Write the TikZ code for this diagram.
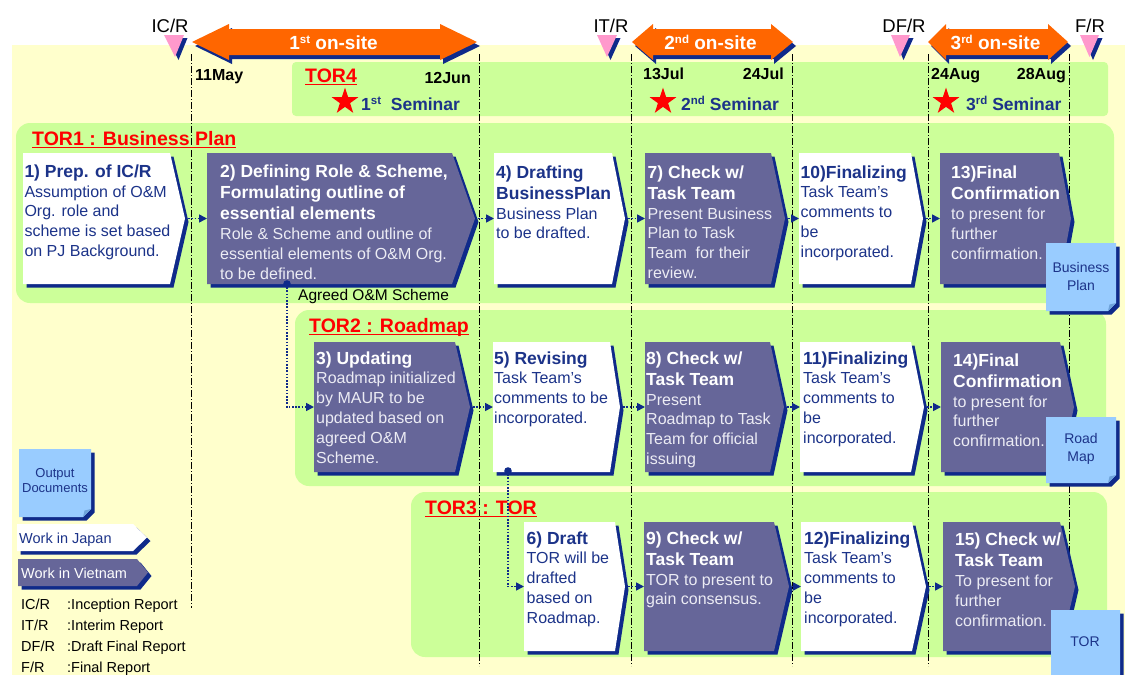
\documentclass[tikz,border=0pt]{standalone}
\usepackage{fontspec}
\setmainfont{Liberation Sans}
\usetikzlibrary{arrows.meta,shapes.geometric}

\definecolor{bgyellow}{HTML}{FFFFCC}
\definecolor{torgreen}{HTML}{CCFF99}
\definecolor{onsite}{HTML}{FF6600}
\definecolor{vnwork}{HTML}{666699}
\definecolor{boxnavy}{HTML}{0F2A8A}
\definecolor{inktext}{HTML}{1C3389}
\definecolor{reportpink}{HTML}{FF99CC}
\definecolor{docblue}{HTML}{99CCFF}
\definecolor{docfold}{HTML}{6FA3DA}
\definecolor{paletext}{HTML}{ECECF4}
\colorlet{bodyink}{inktext}

% fonts for the task boxes
\newcommand{\ttlfont}{\fontsize{17.5}{21.2}\selectfont\bfseries}
\newcommand{\txtfont}{\fontsize{16}{19.8}\selectfont\mdseries}
\newcommand{\titleln}[1]{\hbox{#1}}
\newcommand{\bodyln}[1]{\hbox{\color{bodyink}#1}}
\newcommand{\ordsup}[1]{{\fontsize{11.5}{11.5}\selectfont\raisebox{6pt}{#1}}}

% task box: name, fill, left x, top y, top-right x, tip x, bottom y
\newcommand{\taskshape}[7]{%
  \fill[boxnavy, shift={(3.5,3.5)}] (#3,#4) -- (#5,#4) -- (#6,{(#4+#7)/2}) -- (#5,#7) -- (#3,#7) -- cycle;
  \fill[#2] (#3,#4) -- (#5,#4) -- (#6,{(#4+#7)/2}) -- (#5,#7) -- (#3,#7) -- cycle;
  \coordinate (#1-w) at (#3,{(#4+#7)/2});
  \coordinate (#1-e) at (#6,{(#4+#7)/2});
}

% document with folded corner: left, top, right, bottom
\newcommand{\docshape}[4]{%
  \fill[boxnavy, shift={(3.5,3.5)}] (#1,#2) -- (#3,#2) -- (#3,{#4-8}) -- ({#3-8},#4) -- (#1,#4) -- cycle;
  \fill[docblue] (#1,#2) -- (#3,#2) -- (#3,{#4-8}) -- ({#3-8},#4) -- (#1,#4) -- cycle;
  \fill[docfold] (#3,{#4-8}) -- ({#3-8},#4) -- ({#3-6.5},{#4-6.5}) -- cycle;
}

% double-headed on-site arrow: left tip, left head end, right head start, right tip, centre y
\newcommand{\onsitearrow}[5]{%
  \fill[boxnavy, shift={(3,4)}] (#1,#5) -- (#2,{#5-18}) -- (#2,{#5-13}) -- (#3,{#5-13}) -- (#3,{#5-18}) -- (#4,#5)
     -- (#3,{#5+18}) -- (#3,{#5+13}) -- (#2,{#5+13}) -- (#2,{#5+18}) -- cycle;
  \fill[onsite] (#1,#5) -- (#2,{#5-18}) -- (#2,{#5-13}) -- (#3,{#5-13}) -- (#3,{#5-18}) -- (#4,#5)
     -- (#3,{#5+18}) -- (#3,{#5+13}) -- (#2,{#5+13}) -- (#2,{#5+18}) -- cycle;
}

% report milestone marker: left x, right x, tip x
\newcommand{\reportmark}[3]{%
  \fill[boxnavy, shift={(3.5,3)}] (#1,35) -- (#2,35) -- (#3,57) -- cycle;
  \fill[reportpink] (#1,35) -- (#2,35) -- (#3,57) -- cycle;
}

\begin{document}
\begin{tikzpicture}[x=1pt, y=-1pt,
  timeline/.style={black, line width=0.9pt, dash pattern=on 7pt off 2pt on 1pt off 2pt},
  flow/.style={draw=boxnavy, line width=1.6pt, dash pattern=on 1.6pt off 1.6pt, -{Triangle[length=8pt,width=8pt]}},
  jtext/.style={anchor=base west, inner sep=0, text=inktext, execute at begin node={\colorlet{bodyink}{inktext}}},
  vtext/.style={anchor=base west, inner sep=0, text=white, execute at begin node={\colorlet{bodyink}{paletext}}},
  torhead/.style={inner sep=0, anchor=base west, text=red, font=\fontsize{19.5}{19.5}\selectfont\bfseries},
  dates/.style={inner sep=0, font=\fontsize{16}{16}\selectfont\bfseries},
  toplabel/.style={inner sep=0, anchor=base, font=\fontsize{18.5}{18.5}\selectfont},
  onsitetext/.style={inner sep=0, anchor=base, text=white, font=\fontsize{19}{19}\selectfont\bfseries},
  seminar/.style={inner sep=0, anchor=base west, text=inktext, font=\fontsize{17.5}{17.5}\selectfont\bfseries},
  semstar/.style={star, star points=5, star point ratio=2.618, fill=red, inner sep=0, minimum size=28pt},
  doctext/.style={align=center, inner sep=0, text=inktext, font=\fontsize{14}{18}\selectfont},
  legendtext/.style={inner sep=0, anchor=base west, font=\fontsize{14.5}{14.5}\selectfont},
  ]
\useasboundingbox (0,0) rectangle (1125,675);

% background and TOR regions
\fill[bgyellow] (12,45) rectangle (1125,675);
\fill[torgreen, rounded corners=14pt] (16,123) rectangle (1114,303);
\fill[torgreen, rounded corners=14pt] (295,310) rectangle (1106,486);
\fill[torgreen, rounded corners=14pt] (411,492) rectangle (1107,657);
\fill[torgreen, rounded corners=4pt] (292,62) rectangle (1108,116);

% schedule lines
\draw[timeline] (191,54) -- (191,608);
\foreach \lx in {479.5,631.5,792.5,928,1069.5}
  \draw[timeline] (\lx,54) -- (\lx,666);

% on-site periods
\onsitearrow{192}{229}{440}{477}{42}
\onsitearrow{632}{653}{771}{793}{42}
\onsitearrow{928}{946}{1048}{1068}{42}
\node[onsitetext] (os1) at (333.5,49) {1\ordsup{st} on-site};
\node[onsitetext] (os2) at (710.5,49) {2\ordsup{nd} on-site};
\node[onsitetext] (os3) at (995.5,49) {3\ordsup{rd} on-site};

% report milestones
\reportmark{164}{184}{175}
\reportmark{597}{617}{607}
\reportmark{891}{910}{900}
\reportmark{1080}{1099}{1089.5}
\node[toplabel] (icr) at (170,32) {IC/R};
\node[toplabel] (itr) at (611,32) {IT/R};
\node[toplabel] (dfr) at (904,32) {DF/R};
\node[toplabel] (fr) at (1090,32) {F/R};

% dates
\node[dates, anchor=base west] (d1) at (195,80) {11May};
\node[dates, anchor=base east] (d2) at (471,83) {12Jun};
\node[dates, anchor=base west] (d3) at (643,79) {13Jul};
\node[dates, anchor=base east] (d4) at (784,79) {24Jul};
\node[dates, anchor=base west] (d5) at (931,79) {24Aug};
\node[dates, anchor=base east] (d6) at (1066,79) {28Aug};

% seminars
\node[torhead] (tor4) at (305,82.5) {TOR4};
\node[semstar] (s1) at (345,101.5) {};
\node[semstar] (s2) at (663,101.5) {};
\node[semstar] (s3) at (946,101.5) {};
\node[seminar] (sem1) at (361,110) {1\ordsup{st}\ \ Seminar};
\node[seminar] (sem2) at (681,110) {2\ordsup{nd} Seminar};
\node[seminar] (sem3) at (966,110) {3\ordsup{rd} Seminar};

% region headings
\node[torhead] (tor1) at (32,145.5) {TOR1 : Business Plan};
\node[torhead] (tor2) at (309,332.5) {TOR2 : Roadmap};
\node[torhead] (tor3) at (425,514) {TOR3 : TOR};
\foreach \h in {tor4,tor1,tor2,tor3}
  \draw[red, line width=1.3pt] ([yshift=-2.3pt]\h.base west) -- ([yshift=-2.3pt]\h.base east);

% task boxes
\taskshape{b1}{white}{23}{153}{170}{185}{284}
\taskshape{b2}{vnwork}{207}{153}{452}{475}{284}
\taskshape{b4}{white}{494}{153}{612}{625}{284}
\taskshape{b7}{vnwork}{645}{153}{771}{785}{284}
\taskshape{b10}{white}{799}{153}{911}{923}{284}
\taskshape{b13}{vnwork}{940}{153}{1059}{1071}{284}

\taskshape{b3}{vnwork}{314}{342}{455}{470}{472}
\taskshape{b5}{white}{493}{342}{610}{620}{472}
\taskshape{b8}{vnwork}{645}{342}{770}{784}{472}
\taskshape{b11}{white}{800}{342}{911}{924}{472}
\taskshape{b14}{vnwork}{941}{342}{1060}{1074}{472}

\taskshape{b6}{white}{524}{522}{615}{625}{651}
\taskshape{b9}{vnwork}{644}{522}{774}{789}{651}
\taskshape{b12}{white}{801}{522}{912}{926}{651}
\taskshape{b15}{vnwork}{943}{522}{1060}{1075}{651}

% legend arrows
\taskshape{lj}{white}{17}{524}{133}{147}{551}
\taskshape{lv}{vnwork}{18}{559}{137}{148}{586}

% flow between tasks
\draw[flow] (b1-e) -- (b2-w);
\draw[flow] (b2-e) -- (b4-w);
\draw[flow] (b4-e) -- (b7-w);
\draw[flow] (b7-e) -- (b10-w);
\draw[flow] (b10-e) -- (b13-w);
\draw[flow] (b3-e) -- (b5-w);
\draw[flow] (b5-e) -- (b8-w);
\draw[flow] (b8-e) -- (b11-w);
\draw[flow] (b11-e) -- (b14-w);
\draw[flow] (b6-e) -- (b9-w);
\draw[flow] (b9-e) -- (b12-w);
\draw[flow] (b12-e) -- (b15-w);

\coordinate (agreed) at (287,284);
\coordinate (revised) at (508,471);
\draw[flow] (agreed) |- (b3-w);
\draw[flow] (revised) |- (b6-w);
\fill[boxnavy] (agreed) circle (3.8);
\fill[boxnavy] (revised) circle (3.8);
\node[inner sep=0, anchor=base west, font=\fontsize{15.5}{15.5}\selectfont] (agreedlbl) at (298,300) {Agreed O\&M Scheme};

% task texts
\node[jtext] (t1) at (24.3,177.3) {\vtop{\ttlfont\titleln{1) Prep. of IC/R}\txtfont
  \bodyln{Assumption of O\&M}\bodyln{Org. role and}\bodyln{scheme is set based}\bodyln{on PJ Background.}}};
\node[vtext] (t2) at (220,177.3) {\vtop{\ttlfont\titleln{2) Defining Role \& Scheme,}\titleln{Formulating outline of}\titleln{essential elements}\txtfont
  \bodyln{Role \& Scheme and outline of}\bodyln{essential elements of O\&M Org.}\bodyln{to be defined.}}};
\node[jtext] (t4) at (496,178) {\vtop{\ttlfont\titleln{4) Drafting}\titleln{BusinessPlan}\txtfont
  \bodyln{Business Plan}\bodyln{to be drafted.}}};
\node[vtext] (t7) at (647.5,178) {\vtop{\ttlfont\titleln{7) Check w/}\titleln{Task Team}\txtfont
  \bodyln{Present Business}\bodyln{Plan to Task}\bodyln{Team\ \ for their}\bodyln{review.}}};
\node[jtext] (t10) at (800.5,178) {\vtop{\ttlfont\titleln{10)Finalizing}\txtfont
  \bodyln{Task Team’s}\bodyln{comments to}\bodyln{be}\bodyln{incorporated.}}};
\node[vtext] (t13) at (951,178.5) {\vtop{\ttlfont\titleln{13)Final}\titleln{Confirmation}\txtfont
  \bodyln{to present for}\bodyln{further}\bodyln{confirmation.}}};

\node[vtext] (t3) at (316,364) {\vtop{\ttlfont\titleln{3) Updating}\txtfont
  \bodyln{Roadmap initialized}\bodyln{by MAUR to be}\bodyln{updated based on}\bodyln{agreed O\&M}\bodyln{Scheme.}}};
\node[jtext] (t5) at (494,364) {\vtop{\ttlfont\titleln{5) Revising}\txtfont
  \bodyln{Task Team’s}\bodyln{comments to be}\bodyln{incorporated.}}};
\node[vtext] (t8) at (646,364) {\vtop{\ttlfont\titleln{8) Check w/}\titleln{Task Team}\txtfont
  \bodyln{Present}\bodyln{Roadmap to Task}\bodyln{Team for official}\bodyln{issuing}}};
\node[jtext] (t11) at (803,364) {\vtop{\ttlfont\titleln{11)Finalizing}\txtfont
  \bodyln{Task Team’s}\bodyln{comments to}\bodyln{be}\bodyln{incorporated.}}};
\node[vtext] (t14) at (953,366) {\vtop{\ttlfont\titleln{14)Final}\titleln{Confirmation}\txtfont
  \bodyln{to present for}\bodyln{further}\bodyln{confirmation.}}};

\node[jtext] (t6) at (526.5,544) {\vtop{\ttlfont\titleln{6) Draft}\txtfont
  \bodyln{TOR will be}\bodyln{drafted}\bodyln{based on}\bodyln{Roadmap.}}};
\node[vtext] (t9) at (646,544) {\vtop{\ttlfont\titleln{9) Check w/}\titleln{Task Team}\txtfont
  \bodyln{TOR to present to}\bodyln{gain consensus.}}};
\node[jtext] (t12) at (804,544) {\vtop{\ttlfont\titleln{12)Finalizing}\txtfont
  \bodyln{Task Team’s}\bodyln{comments to}\bodyln{be}\bodyln{incorporated.}}};
\node[vtext] (t15) at (955,545.5) {\vtop{\ttlfont\titleln{15) Check w/}\titleln{Task Team}\txtfont
  \bodyln{To present for}\bodyln{further}\bodyln{confirmation.}}};

% output documents
\docshape{1046}{243}{1116}{311}
\docshape{1046}{417}{1116}{483}
\docshape{1051}{610}{1120}{690}
\docshape{19}{449}{91}{517}
\node[doctext] (docbp) at (1081,276) {Business\\Plan};
\node[doctext] (docrm) at (1081,448.5) {Road\\Map};
\node[doctext] (doctor) at (1085,642) {TOR};
\node[doctext, font=\fontsize{13}{15}\selectfont] (docout) at (55,480.5) {Output\\Documents};

% legend
\node[inner sep=0, anchor=base west, text=inktext, font=\fontsize{14.5}{14.5}\selectfont] (ljt) at (19,543.5) {Work in Japan};
\node[inner sep=0, anchor=base west, text=white, font=\fontsize{14.5}{14.5}\selectfont] (lvt) at (21,578.5) {Work in Vietnam};
\node[legendtext] (a1) at (21,609.3) {IC/R};
\node[legendtext] (a2) at (21,630.3) {IT/R};
\node[legendtext] (a3) at (21,651) {DF/R};
\node[legendtext] (a4) at (21,672) {F/R};
\node[legendtext] (e1) at (67,609.3) {:Inception Report};
\node[legendtext] (e2) at (67,630.3) {:Interim Report};
\node[legendtext] (e3) at (67,651) {:Draft Final Report};
\node[legendtext] (e4) at (67,672) {:Final Report};
\end{tikzpicture}
\end{document}
